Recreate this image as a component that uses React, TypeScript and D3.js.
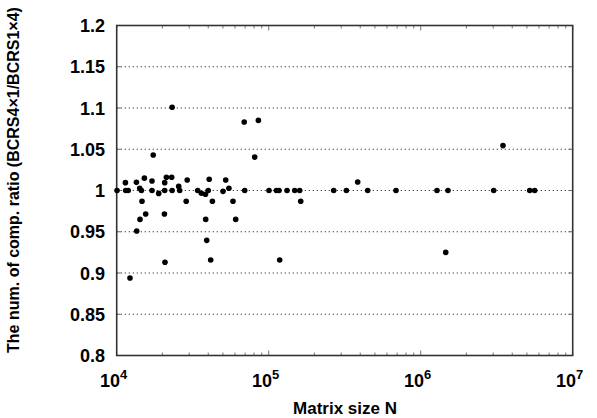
import React from "react";
import * as d3 from "d3";

const matrixSize: number[] = [
  10050, 11410, 11460, 11900, 13480, 14170, 14540, 14670, 15210, 17070,
  17070, 17390, 18890, 20690, 20690, 21230, 23000, 23160, 23160, 25580,
  25970, 29100, 28660, 34110, 36080, 38390, 40000, 40610, 42620, 50050,
  52140, 54730, 58230, 69010, 69530, 80880, 85550, 100460, 112400, 116900,
  132000, 148300, 159900, 162400, 267700, 324400, 385000, 448000, 688000, 1280000,
  1512000, 3022000, 3478000, 5214000, 5623000, 118100, 1461000, 15510, 14230, 20600,
  38510, 60660, 13540, 39100, 20780, 41530, 12230,
];
const ratio: number[] = [
  1.0, 1.0095, 1.0, 1.0, 1.0099, 1.0028, 1.0, 0.987, 1.015, 1.0115,
  1.0, 1.043, 0.9965, 1.0, 1.0095, 1.016, 1.016, 1.0, 1.101, 1.005,
  1.0, 1.0127, 0.987, 1.0, 0.9966, 0.9954, 1.0, 1.0136, 0.987, 0.999,
  1.0127, 1.0027, 0.987, 1.083, 1.0, 1.0405, 1.085, 1.0, 1.0, 1.0,
  1.0, 1.0, 1.0, 0.987, 1.0, 1.0, 1.0103, 1.0, 1.0, 1.0,
  1.0, 1.0, 1.0544, 1.0, 1.0, 0.9157, 0.925, 0.9715, 0.965, 0.9715,
  0.965, 0.965, 0.951, 0.9396, 0.913, 0.9157, 0.894,
];
const yTicks: number[] = [0.8, 0.85, 0.9, 0.95, 1, 1.05, 1.1, 1.15, 1.2];
const yTickLabels: string[] = ["0.8", "0.85", "0.9", "0.95", "1", "1.05", "1.1", "1.15", "1.2"];
const xDecades: number[] = [4, 5, 6, 7];

const W = 597;
const H = 418;
const L = 116.7, R = 572.7, T = 25.5, B = 355.5;
const FONT = "'Liberation Sans', Arial, sans-serif";

export default function App() {
  const x = d3.scaleLog().domain([1e4, 1e7]).range([L, R]);
  const y = d3.scaleLinear().domain([0.8, 1.2]).range([B, T]);

  const minor: number[] = [];
  for (let k = 4; k < 7; k++) {
    for (let m = 2; m <= 9; m++) minor.push(m * Math.pow(10, k));
  }

  return (
    <svg width={W} height={H} style={{ position: "absolute", left: 0, top: 0, background: "#fff" }}
      fontFamily={FONT}>
      {yTicks.slice(1, -1).map((t) => (
        <line key={"g" + t} x1={L} x2={R} y1={y(t)} y2={y(t)} stroke="#444" strokeWidth={1}
          strokeDasharray="1.3 2.7" />
      ))}
      {yTicks.map((t) => (
        <g key={"yt" + t}>
          <line x1={L} x2={L + 4} y1={y(t)} y2={y(t)} stroke="#666" strokeWidth={1} />
          <line x1={R} x2={R - 4} y1={y(t)} y2={y(t)} stroke="#666" strokeWidth={1} />
        </g>
      ))}
      {minor.map((v) => (
        <g key={"mx" + v}>
          <line x1={x(v)} x2={x(v)} y1={B} y2={B - 3} stroke="#777" strokeWidth={1} />
          <line x1={x(v)} x2={x(v)} y1={T} y2={T + 3} stroke="#777" strokeWidth={1} />
        </g>
      ))}
      {xDecades.map((d) => (
        <g key={"Mx" + d}>
          <line x1={x(Math.pow(10, d))} x2={x(Math.pow(10, d))} y1={B} y2={B - 5} stroke="#777" strokeWidth={1} />
          <line x1={x(Math.pow(10, d))} x2={x(Math.pow(10, d))} y1={T} y2={T + 5} stroke="#777" strokeWidth={1} />
        </g>
      ))}
      <rect x={L} y={T} width={R - L} height={B - T} fill="none" stroke="#333" strokeWidth={1.6} />
      {matrixSize.map((n, i) => (
        <circle key={"p" + i} cx={x(n)} cy={y(ratio[i])} r={2.8} fill="#000" />
      ))}
      {yTicks.map((t, i) => (
        <text key={"yl" + t} x={105} y={y(t) + 6.5} textAnchor="end" fontSize={18} fontWeight="bold"
          fill="#000">{yTickLabels[i]}</text>
      ))}
      {xDecades.map((d) => (
        <text key={"xl" + d} x={x(Math.pow(10, d)) - 3} y={387} textAnchor="middle" fontSize={18}
          fontWeight="bold" fill="#000">
          10<tspan fontSize={13} dy={-8}>{d}</tspan>
        </text>
      ))}
      <text x={345} y={414} textAnchor="middle" fontSize={17} fontWeight="bold" fill="#000">
        Matrix size N
      </text>
      <text transform={`translate(19, 180) rotate(-90)`} textAnchor="middle" fontSize={16}
        fontWeight="bold" fill="#000">
        The num. of comp. ratio (BCRS4×1/BCRS1×4)
      </text>
    </svg>
  );
}
